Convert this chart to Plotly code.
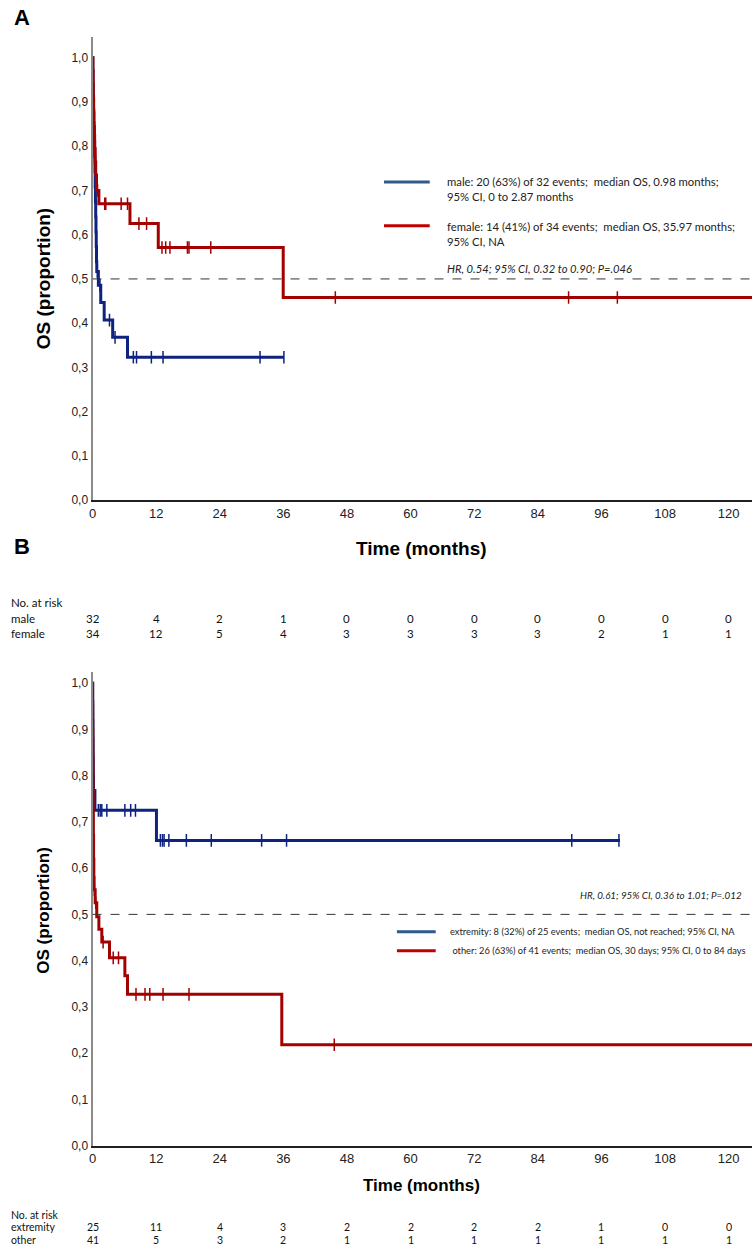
import plotly.graph_objects as go

# ---------------- data ----------------
tick_months = [0, 12, 24, 36, 48, 60, 72, 84, 96, 108, 120]
y_ticks = [0.0, 0.1, 0.2, 0.3, 0.4, 0.5, 0.6, 0.7, 0.8, 0.9, 1.0]
y_ticktext = ["0,0", "0,1", "0,2", "0,3", "0,4", "0,5", "0,6", "0,7", "0,8", "0,9", "1,0"]

# Panel A - male
male_t = [0, 0.05, 0.1, 0.15, 0.2, 0.25, 0.35, 0.4, 0.45, 0.5, 0.55, 0.6, 0.65, 0.7, 0.75, 0.8, 1.1, 1.55, 2.2, 3.8, 6.6, 36.1]
male_s = [1.0, 0.969, 0.938, 0.906, 0.875, 0.844, 0.810, 0.776, 0.742, 0.708, 0.674, 0.640, 0.606, 0.573, 0.539, 0.517, 0.486, 0.447, 0.407, 0.368, 0.323, 0.323]
male_cens_t = [0.3, 0.9, 1.4, 3.2, 4.25, 7.7, 8.3, 11.1, 13.3, 31.6, 36.1]
male_cens_s = [0.844, 0.517, 0.486, 0.407, 0.368, 0.323, 0.323, 0.323, 0.323, 0.323, 0.323]

# Panel A - female
female_t = [0, 0.08, 0.12, 0.16, 0.2, 0.25, 0.3, 0.4, 0.5, 0.6, 0.75, 1.2, 7.06, 12.4, 35.97, 125]
female_s = [1.0, 0.971, 0.941, 0.912, 0.882, 0.853, 0.824, 0.794, 0.764, 0.735, 0.70, 0.67, 0.625, 0.571, 0.458, 0.458]
female_cens_t = [0.45, 0.95, 2.3, 2.5, 5.4, 6.6, 8.75, 10.2, 13.1, 13.8, 14.6, 17.9, 18.2, 22.3, 45.8, 89.8, 99.0]
female_cens_s = [0.794, 0.70, 0.67, 0.67, 0.67, 0.67, 0.625, 0.625, 0.571, 0.571, 0.571, 0.571, 0.571, 0.571, 0.458, 0.458, 0.458]

# Panel B - extremity
ext_t = [0, 0.03, 0.06, 0.09, 0.12, 0.15, 0.18, 0.45, 12.06, 99.5]
ext_s = [1.0, 0.96, 0.92, 0.88, 0.84, 0.80, 0.768, 0.725, 0.66, 0.66]
ext_cens_t = [1.1, 1.45, 1.75, 2.7, 6.1, 7.2, 8.1, 12.8, 13.2, 13.5, 14.4, 17.7, 22.4, 31.9, 36.6, 90.4, 99.3]
ext_cens_s = [0.725, 0.725, 0.725, 0.725, 0.725, 0.725, 0.725, 0.66, 0.66, 0.66, 0.66, 0.66, 0.66, 0.66, 0.66, 0.66, 0.66]

# Panel B - other
oth_t = [0, 0.02, 0.04, 0.06, 0.08, 0.1, 0.13, 0.16, 0.2, 0.25, 0.3, 0.5, 0.8, 1.2, 1.75, 3.2, 6.1, 6.6, 35.7, 125]
oth_s = [1.0, 0.95, 0.90, 0.86, 0.82, 0.77, 0.72, 0.67, 0.62, 0.58, 0.553, 0.525, 0.495, 0.468, 0.44, 0.406, 0.367, 0.327, 0.218, 0.218]
oth_cens_t = [0.05, 0.12, 0.35, 0.6, 2.0, 3.9, 4.9, 8.2, 9.9, 10.8, 13.3, 18.2, 45.6]
oth_cens_s = [0.859, 0.735, 0.553, 0.525, 0.44, 0.406, 0.406, 0.327, 0.327, 0.327, 0.327, 0.327, 0.218]

# numbers at risk
male_risk = [32, 4, 2, 1, 0, 0, 0, 0, 0, 0, 0]
female_risk = [34, 12, 5, 4, 3, 3, 3, 3, 2, 1, 1]
ext_risk = [25, 11, 4, 3, 2, 2, 2, 2, 1, 0, 0]
oth_risk = [41, 5, 3, 2, 1, 1, 1, 1, 1, 1, 1]

legend_A = ["male: 20 (63%) of 32 events;  median OS, 0.98 months;<br>95% CI, 0 to 2.87 months",
            "female: 14 (41%) of 34 events;  median OS, 35.97 months;<br>95% CI, NA"]
hr_A = "HR, 0.54; 95% CI, 0.32 to 0.90; P=.046"
legend_B = ["extremity: 8 (32%) of 25 events;  median OS, not reached; 95% CI, NA",
            " other: 26 (63%) of 41 events;  median OS, 30 days; 95% CI, 0 to 84 days"]
hr_B = "HR, 0.61; 95% CI, 0.36 to 1.01; P=.012"

# ---------------- styling ----------------
W, H = 755, 1256
BLUE = "#0E2380"
RED = "#A30000"
LEG_BLUE = "#2E5A8C"
LEG_RED = "#C00000"
NARROW = "Liberation Sans Narrow, Arial Narrow, Liberation Sans, Arial"
SANS = "Liberation Sans, Arial"
CAL = "Lato, Carlito, Calibri, sans-serif"


def px(x):
    return x / W


def py(y):
    return 1 - y / H


fig = go.Figure()


def add_curve(t, s, ct, cs, color, xa, ya):
    fig.add_trace(go.Scatter(x=t, y=s, mode="lines", line=dict(color=color, width=3, shape="hv"),
                             xaxis=xa, yaxis=ya, showlegend=False, hoverinfo="skip"))
    fig.add_trace(go.Scatter(x=ct, y=cs, mode="markers",
                             marker=dict(symbol="line-ns", size=9, line=dict(color=color, width=1.5)),
                             xaxis=xa, yaxis=ya, showlegend=False, hoverinfo="skip"))


add_curve(male_t, male_s, male_cens_t, male_cens_s, BLUE, "x", "y")
add_curve(female_t, female_s, female_cens_t, female_cens_s, RED, "x", "y")
add_curve(ext_t, ext_s, ext_cens_t, ext_cens_s, BLUE, "x2", "y2")
add_curve(oth_t, oth_s, oth_cens_t, oth_cens_s, RED, "x2", "y2")

xr = [0, 124.4]
xdom = [px(89), px(752)]
common_x = dict(range=xr, tickvals=tick_months, ticks="", showgrid=False, zeroline=False,
                showline=True, linecolor="#202020", linewidth=2,
                tickfont=dict(family=NARROW, size=13, color="#222"))
common_y = dict(tickvals=y_ticks, ticktext=y_ticktext, ticks="", showgrid=False, zeroline=False,
                showline=True, linecolor="#8a8a8a", linewidth=2,
                tickfont=dict(family=SANS, size=12, color="#222"))

fig.update_layout(
    width=W, height=H, margin=dict(l=0, r=0, t=0, b=0),
    paper_bgcolor="white", plot_bgcolor="white",
    xaxis=dict(domain=xdom, anchor="y", **common_x),
    yaxis=dict(domain=[py(503), py(37)], range=[0, (503 - 37) / 445], anchor="x", **common_y),
    xaxis2=dict(domain=xdom, anchor="y2", **common_x),
    yaxis2=dict(domain=[py(1152), py(676)], range=[0, (1152 - 676) / 465], anchor="x2", **common_y),
)

shapes = []
# reference lines at 0.5
shapes.append(dict(type="line", xref="x", yref="y", x0=0, x1=xr[1], y0=0.5, y1=0.5,
                   line=dict(color="#333", width=1, dash="dash")))
shapes.append(dict(type="line", xref="x2", yref="y2", x0=0, x1=xr[1], y0=0.5, y1=0.5,
                   line=dict(color="#333", width=1, dash="dash")))
# legend lines panel A
shapes.append(dict(type="line", xref="paper", yref="paper", x0=px(382), x1=px(428), y0=py(183), y1=py(183),
                   line=dict(color=LEG_BLUE, width=3)))
shapes.append(dict(type="line", xref="paper", yref="paper", x0=px(382), x1=px(428), y0=py(227), y1=py(227),
                   line=dict(color=LEG_RED, width=3)))
# legend lines panel B
B_EXT_Y, B_OTH_Y, B_HR_Y = 937, 956, 900
shapes.append(dict(type="line", xref="paper", yref="paper", x0=px(395), x1=px(434), y0=py(B_EXT_Y), y1=py(B_EXT_Y),
                   line=dict(color=LEG_BLUE, width=3)))
shapes.append(dict(type="line", xref="paper", yref="paper", x0=px(395), x1=px(434), y0=py(B_OTH_Y), y1=py(B_OTH_Y),
                   line=dict(color=LEG_RED, width=3)))
fig.update_layout(shapes=shapes)

ann = []


def txt(x, y, text, size, family=CAL, xanchor="left", yanchor="middle", bold=False, italic=False,
        xref="paper", angle=0, color="#111"):
    if bold:
        text = "<b>" + text + "</b>"
    if italic:
        text = "<i>" + text + "</i>"
    ann.append(dict(x=x if xref != "paper" else px(x), y=py(y), xref=xref, yref="paper", text=text,
                    showarrow=False, xanchor=xanchor, yanchor=yanchor, textangle=angle,
                    font=dict(family=family, size=size, color=color), align="left"))


# panel letters
txt(8, 18, "A", 22, family=SANS, bold=True, color="#000")
txt(8, 550, "B", 22, family=SANS, bold=True, color="#000")

# axis titles
txt(40, 280, "OS (proportion)", 19, family=SANS, bold=True, angle=-90, xanchor="center", color="#000")
txt(40, 915, "OS (proportion)", 17, family=SANS, bold=True, angle=-90, xanchor="center", color="#000")
txt(420, 552, "Time (months)", 19, family=NARROW, bold=True, xanchor="center", color="#000")
txt(420, 1192, "Time (months)", 17, family=NARROW, bold=True, xanchor="center", color="#000")

# legends panel A
ann.append(dict(x=px(443), y=py(190), xref="paper", yref="paper", text=legend_A[0], showarrow=False,
                xanchor="left", yanchor="middle", align="left", font=dict(family=CAL, size=11.3, color="#222")))
ann.append(dict(x=px(443), y=py(235), xref="paper", yref="paper", text=legend_A[1], showarrow=False,
                xanchor="left", yanchor="middle", align="left", font=dict(family=CAL, size=11.3, color="#222")))
txt(443, 270, hr_A, 11.2, italic=True, color="#222")

# legends panel B
txt(446, B_EXT_Y, legend_B[0], 9.3, color="#222")
txt(446, B_OTH_Y, legend_B[1], 9.3, color="#222")
txt(744, B_HR_Y, hr_B, 9.8, italic=True, xanchor="right", color="#222")

# risk tables
txt(5, 606, "No. at risk", 11.5, color="#111")
txt(5, 622, "male", 11.5, color="#111")
txt(5, 637, "female", 11.5, color="#111")
txt(5, 1222, "No. at risk", 10.5, color="#111")
txt(5, 1234, "extremity", 10.5, color="#111")
txt(5, 1247, "other", 10.5, color="#111")
for m, a, b in zip(tick_months, male_risk, female_risk):
    txt(m, 622, str(a), 11.5, xref="x", xanchor="center")
    txt(m, 637, str(b), 11.5, xref="x", xanchor="center")
for m, a, b in zip(tick_months, ext_risk, oth_risk):
    txt(m, 1234, str(a), 10.5, xref="x2", xanchor="center")
    txt(m, 1247, str(b), 10.5, xref="x2", xanchor="center")

fig.update_layout(annotations=ann)

fig.write_html("out.html", config={"displayModeBar": False},
               post_script="document.body.style.margin='0px';")
